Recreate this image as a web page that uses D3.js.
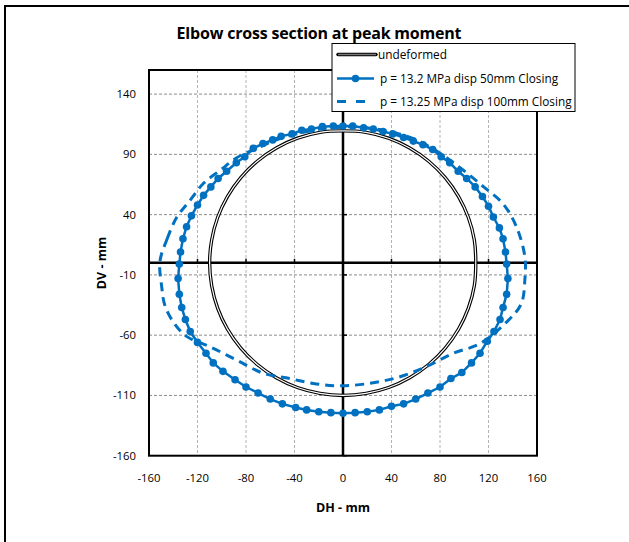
<!DOCTYPE html>
<html>
<head>
<meta charset="utf-8">
<script src="https://d3js.org/d3.v7.min.js"></script>
<style>
  body { margin: 0; background: #fff; }
  text { font-family: "Open Sans", sans-serif; fill: #000; }
</style>
</head>
<body>
<script>
// tick values
var xTicks = [-160, -120, -80, -40, 0, 40, 80, 120, 160];
var yTicks = [-160, -110, -60, -10, 40, 90, 140];

var legendLabels = ["undeformed", "p = 13.2 MPa disp 50mm Closing", "p = 13.25 MPa disp 100mm Closing"];

// undeformed section
var undefX = [-110,-108.3,-103.4,-95.3,-84.3,-70.7,-55,-37.6,-19,0,19,37.6,55,70.7,84.3,95.3,103.4,108.3,
              109.5,108.3,103.4,95.3,84.3,70.7,55,37.6,19,0,-19,-37.6,-55,-70.7,-84.3,-95.3,-103.4,-108.3];
var undefY = [0,19,37.6,55,70.7,84.3,95.3,103.4,108.3,109.5,108.3,103.4,95.3,84.3,70.7,55,37.6,19,
              0,-19,-37.6,-55,-70.7,-84.3,-95.3,-103.4,-108.3,-110,-108.3,-103.4,-95.3,-84.3,-70.7,-55,-37.6,-19];

// p = 13.2 MPa disp 50mm
var p50X = [-135,-134,-132,-129,-125,-120,-115,-109,-103,-96,-88,-81,-74,-66,-58,-51,-42,-34,-26,-17,-8,0,
            8,17,25,33,41,50,58,66,74,81,88,95,102,109,115,120,124,129,132,134,135,
            136,135,132,129.5,124.5,119,113,106,98,89,80,70,60,50,40,30,20,10,0,
            -10,-20,-30,-39,-50,-60,-70,-80,-89,-99,-107,-113,-120,-126,-130,-133,-135,-136];
var p50Y = [-1,9,20,30,39,48,56,63,70,76,83,88,95,99,102,105,107,110,111,113,113.5,113.5,
            113.5,112,111,109,107,104,101,98,94,88,83,76,70,63,55,47,38,29,20,9,-1,
            -13,-26,-37,-47,-57,-65,-75,-83,-91,-96,-103,-108,-113,-117,-119,-122,-123.5,-124.3,-124.8,
            -124.3,-123.5,-122,-120,-117,-113,-108,-103,-97,-90,-83,-75,-66,-57,-47,-37,-26,-13];

// p = 13.25 MPa disp 100mm
var p100X = [-151,-145,-137,-126,-115,-101,-88,-71,-55,-38,-19,0,8,33,58,80,99,116,132,143,150,
             150,147,135,113,91,69,47,25,0,-22,-44,-66,-88,-110,-129,-140,-147,-149.5];
var p100Y = [1,20,38,52,66,77,87,95,102,107,111,112.5,113,110,103,91,77,63,49,30,5,
             -14,-34,-49,-67,-75,-86,-94.5,-99.5,-102,-100.5,-96,-91.5,-80.5,-69.5,-61,-49,-35,-20];

var blue = "#0070C0";
var W = 629, H = 542;

var svg = d3.select("body").append("svg")
  .attr("width", W)
  .attr("height", H);

// chart frame
svg.append("rect")
  .attr("x", 5).attr("y", 6)
  .attr("width", W + 10).attr("height", H + 10)
  .attr("fill", "#fff")
  .attr("stroke", "#000")
  .attr("stroke-width", 2);

var x = d3.scaleLinear().domain([-160, 160]).range([149, 537]);
var y = d3.scaleLinear().domain([-160, 160]).range([455.7, 70]);

// grid
svg.append("g").selectAll("line")
  .data(xTicks.filter(function(d){ return d > -160 && d < 160; }))
  .enter().append("line")
  .attr("x1", function(d){ return x(d); })
  .attr("x2", function(d){ return x(d); })
  .attr("y1", y(160)).attr("y2", y(-160))
  .attr("stroke", "#b4b4b4")
  .attr("stroke-dasharray", "3,2");

svg.append("g").selectAll("line")
  .data(yTicks.filter(function(d){ return d > -160; }))
  .enter().append("line")
  .attr("y1", function(d){ return y(d); })
  .attr("y2", function(d){ return y(d); })
  .attr("x1", x(-160)).attr("x2", x(160))
  .attr("stroke", "#8c8c8c")
  .attr("stroke-dasharray", "3,2");

// zero axes with inside ticks
svg.append("line")
  .attr("x1", x(-160)).attr("x2", x(160))
  .attr("y1", y(0)).attr("y2", y(0))
  .attr("stroke", "#000").attr("stroke-width", 2.5);
svg.append("g").selectAll("line")
  .data(xTicks)
  .enter().append("line")
  .attr("x1", function(d){ return x(d); })
  .attr("x2", function(d){ return x(d); })
  .attr("y1", y(0)).attr("y2", y(0) - 4)
  .attr("stroke", "#000").attr("stroke-width", 1.5);

svg.append("line")
  .attr("x1", x(0)).attr("x2", x(0))
  .attr("y1", y(160)).attr("y2", y(-160))
  .attr("stroke", "#000").attr("stroke-width", 2.5);
svg.append("g").selectAll("line")
  .data(yTicks)
  .enter().append("line")
  .attr("y1", function(d){ return y(d); })
  .attr("y2", function(d){ return y(d); })
  .attr("x1", x(0)).attr("x2", x(0) + 4)
  .attr("stroke", "#000").attr("stroke-width", 1.5);

// plot border
svg.append("rect")
  .attr("x", x(-160)).attr("y", y(160))
  .attr("width", x(160) - x(-160))
  .attr("height", y(-160) - y(160))
  .attr("fill", "none")
  .attr("stroke", "#000")
  .attr("stroke-width", 2);

// tick labels
svg.append("g").selectAll("text")
  .data(xTicks)
  .enter().append("text")
  .attr("x", function(d){ return x(d); })
  .attr("y", 482)
  .attr("text-anchor", "middle")
  .style("font-size", "11.3px")
  .text(function(d){ return d; });

svg.append("g").selectAll("text")
  .data(yTicks)
  .enter().append("text")
  .attr("x", 136)
  .attr("y", function(d){ return y(d); })
  .attr("dy", "0.35em")
  .attr("text-anchor", "end")
  .style("font-size", "11.3px")
  .text(function(d){ return d; });

// titles
svg.append("text")
  .attr("x", 319).attr("y", 39)
  .attr("text-anchor", "middle")
  .style("font-size", "16px").style("font-weight", "bold")
  .style("letter-spacing", "-0.2px")
  .text("Elbow cross section at peak  moment");

svg.append("text")
  .attr("x", 343).attr("y", 512)
  .attr("text-anchor", "middle")
  .style("font-size", "12.5px").style("font-weight", "bold")
  .text("DH - mm");

svg.append("text")
  .attr("transform", "translate(106,263) rotate(-90)")
  .attr("text-anchor", "middle")
  .style("font-size", "12.5px").style("font-weight", "bold")
  .text("DV - mm");

// series
function pts(xs, ys) {
  return xs.map(function(d, i){ return [d, ys[i]]; });
}
var undefPts = pts(undefX, undefY);
var p50Pts = pts(p50X, p50Y);
var p100Pts = pts(p100X, p100Y);

var lineSmooth = d3.line()
  .x(function(d){ return x(d[0]); })
  .y(function(d){ return y(d[1]); })
  .curve(d3.curveCatmullRomClosed);
var lineStraight = d3.line()
  .x(function(d){ return x(d[0]); })
  .y(function(d){ return y(d[1]); })
  .curve(d3.curveLinearClosed);

// undeformed drawn as a double line
svg.append("path").attr("d", lineSmooth(undefPts))
  .attr("fill", "none").attr("stroke", "#000").attr("stroke-width", 3.4);
svg.append("path").attr("d", lineSmooth(undefPts))
  .attr("fill", "none").attr("stroke", "#fff").attr("stroke-width", 1.2);

svg.append("path").attr("d", lineSmooth(p100Pts))
  .attr("fill", "none").attr("stroke", blue)
  .attr("stroke-width", 3)
  .attr("stroke-dasharray", "9,6");

svg.append("path").attr("d", lineStraight(p50Pts))
  .attr("fill", "none").attr("stroke", blue)
  .attr("stroke-width", 2.5);
svg.append("g").selectAll("circle")
  .data(p50Pts)
  .enter().append("circle")
  .attr("cx", function(d){ return x(d[0]); })
  .attr("cy", function(d){ return y(d[1]); })
  .attr("r", 3.8)
  .attr("fill", blue);

// legend
var lg = svg.append("g");
lg.append("rect")
  .attr("x", 332).attr("y", 43.5)
  .attr("width", 243).attr("height", 68)
  .attr("fill", "#fff").attr("stroke", "#000").attr("stroke-width", 1);

var rowY = [54.5, 78.5, 101.5];

lg.append("line").attr("x1", 338).attr("x2", 376).attr("y1", rowY[0]).attr("y2", rowY[0])
  .attr("stroke", "#000").attr("stroke-width", 3.4).attr("stroke-linecap", "round");
lg.append("line").attr("x1", 338).attr("x2", 376).attr("y1", rowY[0]).attr("y2", rowY[0])
  .attr("stroke", "#777").attr("stroke-width", 1.4);

lg.append("line").attr("x1", 337).attr("x2", 374).attr("y1", rowY[1]).attr("y2", rowY[1])
  .attr("stroke", blue).attr("stroke-width", 2.5);
lg.append("circle").attr("cx", 355.5).attr("cy", rowY[1]).attr("r", 3.8).attr("fill", blue);

lg.append("line").attr("x1", 337).attr("x2", 374).attr("y1", rowY[2]).attr("y2", rowY[2])
  .attr("stroke", blue).attr("stroke-width", 3).attr("stroke-dasharray", "9,10");

lg.selectAll("text.lab")
  .data(legendLabels)
  .enter().append("text")
  .attr("class", "lab")
  .attr("x", function(d, i){ return i === 0 ? 378 : 380; })
  .attr("y", function(d, i){ return rowY[i]; })
  .attr("dy", "0.35em")
  .style("font-size", "11.8px")
  .text(function(d){ return d; });
</script>
</body>
</html>
